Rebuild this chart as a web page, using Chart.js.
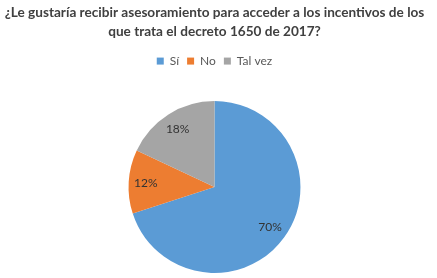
<!DOCTYPE html>
<html>
<head>
<meta charset="utf-8">
<script src="https://cdn.jsdelivr.net/npm/chart.js@4"></script>
<style>
  html, body { margin: 0; padding: 0; background: #fff; }
  #wrap { width: 437px; height: 278px; }
</style>
</head>
<body>
<div id="wrap"><canvas id="pieCanvas" width="437" height="278"></canvas></div>
<script>
const labels = ["Sí", "No", "Tal vez"];
const values = [70, 12, 18];
const colors = ["#5b9bd5", "#ed7d31", "#a5a5a5"];
const titleLines = [
  "¿Le gustaría recibir asesoramiento para acceder a los incentivos de los",
  "que trata el decreto 1650 de 2017?"
];

// percentage labels inside each slice
const sliceLabels = {
  id: "sliceLabels",
  afterDatasetsDraw(chart) {
    const ctx = chart.ctx;
    const meta = chart.getDatasetMeta(0);
    const total = values.reduce((a, b) => a + b, 0);
    ctx.save();
    ctx.font = "12px Lato, sans-serif";
    ctx.fillStyle = "#333333";
    ctx.textAlign = "center";
    ctx.textBaseline = "middle";
    meta.data.forEach((arc, i) => {
      const mid = (arc.startAngle + arc.endAngle) / 2;
      const r = arc.outerRadius * 0.8;
      const x = arc.x + Math.cos(mid) * r;
      const y = arc.y + Math.sin(mid) * r;
      ctx.fillText(Math.round(values[i] / total * 100) + "%", x, y);
    });
    ctx.restore();
  }
};

// extra gap below the legend
const legendGap = {
  id: "legendGap",
  beforeInit(chart) {
    const fit = chart.legend.fit;
    chart.legend.fit = function () {
      fit.bind(chart.legend)();
      this.height += 24;
    };
  }
};

const config = {
  type: "pie",
  data: {
    labels: labels,
    datasets: [{
      data: values,
      backgroundColor: colors,
      borderColor: "#ffffff",
      borderWidth: 0
    }]
  },
  options: {
    responsive: false,
    animation: false,
    layout: { padding: { top: 0, bottom: 5, left: 0, right: 8 } },
    plugins: {
      title: {
        display: true,
        text: titleLines,
        color: "#404040",
        font: { family: "Lato, sans-serif", size: 13.6, weight: "bold", lineHeight: 1.4 },
        padding: { top: 3, bottom: 6 }
      },
      legend: {
        display: true,
        position: "top",
        labels: {
          color: "#595959",
          font: { family: "Lato, sans-serif", size: 12 },
          boxWidth: 7,
          boxHeight: 7,
          padding: 8
        }
      },
      tooltip: { enabled: false }
    }
  },
  plugins: [sliceLabels, legendGap]
};

const canvas = document.getElementById("pieCanvas");
if (canvas) {
  new Chart(canvas.getContext("2d"), config);
} else {
  console.error("Canvas not found");
}
</script>
</body>
</html>
